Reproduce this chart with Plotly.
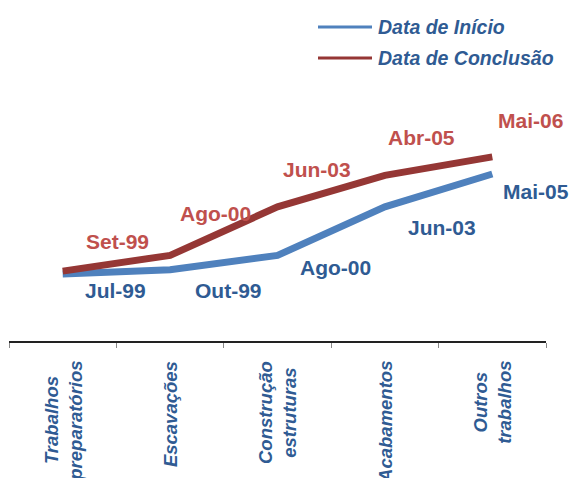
import plotly.graph_objects as go

categories = ["Trabalhos preparatórios", "Escavações", "Construção estruturas", "Acabamentos", "Outros trabalhos"]
category_labels = ["Trabalhos<br>preparatórios", "Escavações", "Construção<br>estruturas", "Acabamentos", "Outros<br>trabalhos"]
inicio_dates = ["1999-07-01", "1999-10-01", "2000-08-01", "2003-06-01", "2005-05-01"]
conclusao_dates = ["1999-09-01", "2000-08-01", "2003-06-01", "2005-04-01", "2006-05-01"]
inicio_labels = ["Jul-99", "Out-99", "Ago-00", "Jun-03", "Mai-05"]
conclusao_labels = ["Set-99", "Ago-00", "Jun-03", "Abr-05", "Mai-06"]
series_names = ["Data de Início", "Data de Conclusão"]

BLUE_LINE = "#4F81BD"
RED_LINE = "#953735"
BLUE_TXT = "#2F5B93"
RED_TXT = "#C0504D"
FONT = "Liberation Sans, Arial, sans-serif"

fig = go.Figure()
fig.add_trace(go.Scatter(x=categories, y=inicio_dates, mode="lines", name=series_names[0],
                         line=dict(color=BLUE_LINE, width=7), showlegend=False))
fig.add_trace(go.Scatter(x=categories, y=conclusao_dates, mode="lines", name=series_names[1],
                         line=dict(color=RED_LINE, width=7), showlegend=False))

annotations = []
blue_off = [(53, -16), (58, -21), (58, -12), (57, -21), (44, -18)]
red_off = [(55, 30), (45, 42), (39, 37), (37, 38), (38, 36)]
for i, c in enumerate(categories):
    annotations.append(dict(x=c, y=inicio_dates[i], xref="x", yref="y", text=inicio_labels[i],
                            showarrow=False, xshift=blue_off[i][0], yshift=blue_off[i][1],
                            font=dict(family=FONT, size=21, color=BLUE_TXT, weight="bold")))
    annotations.append(dict(x=c, y=conclusao_dates[i], xref="x", yref="y", text=conclusao_labels[i],
                            showarrow=False, xshift=red_off[i][0], yshift=red_off[i][1],
                            font=dict(family=FONT, size=21, color=RED_TXT, weight="bold")))

# category labels (rotated, centered lines)
for i, c in enumerate(categories):
    annotations.append(dict(x=c, y=0, xref="x", yref="paper", text=category_labels[i], textangle=-90,
                            showarrow=False, yanchor="top", xanchor="center", align="center",
                            yshift=-18,
                            font=dict(family=FONT, size=18.5, color=BLUE_TXT, weight="bold", style="italic")))

# manual legend
plot_left, plot_w, plot_bottom, plot_h = 9, 537, 341, 261
def px(xp):
    return (xp - plot_left) / plot_w
def py(yp):
    return (plot_bottom - yp) / plot_h

shapes = []
for name, col, yy in [(series_names[0], BLUE_LINE, 27), (series_names[1], RED_LINE, 58)]:
    shapes.append(dict(type="line", xref="paper", yref="paper", x0=px(318), x1=px(372),
                       y0=py(yy), y1=py(yy), line=dict(color=col, width=3)))
    annotations.append(dict(x=px(376), y=py(yy), xref="paper", yref="paper", text=name,
                            showarrow=False, xanchor="left", yanchor="middle",
                            font=dict(family=FONT, size=19.5, color=BLUE_TXT, weight="bold", style="italic")))

fig.update_layout(
    width=572, height=478,
    margin=dict(l=9, r=26, t=80, b=137),
    paper_bgcolor="white", plot_bgcolor="white",
    showlegend=False,
    annotations=annotations,
    shapes=shapes,
    xaxis=dict(type="category", range=[-0.5, 4.5], showticklabels=False,
               tickson="boundaries", ticks="outside", ticklen=5,
               tickcolor="#888888", showline=True, linecolor="#222222", linewidth=1.5,
               showgrid=False, zeroline=False, fixedrange=True),
    yaxis=dict(type="date", range=["1995-08-04", "2010-10-24"], visible=False,
               showgrid=False, zeroline=False, fixedrange=True),
)

fig.write_html("out.html", config={"displayModeBar": False})
